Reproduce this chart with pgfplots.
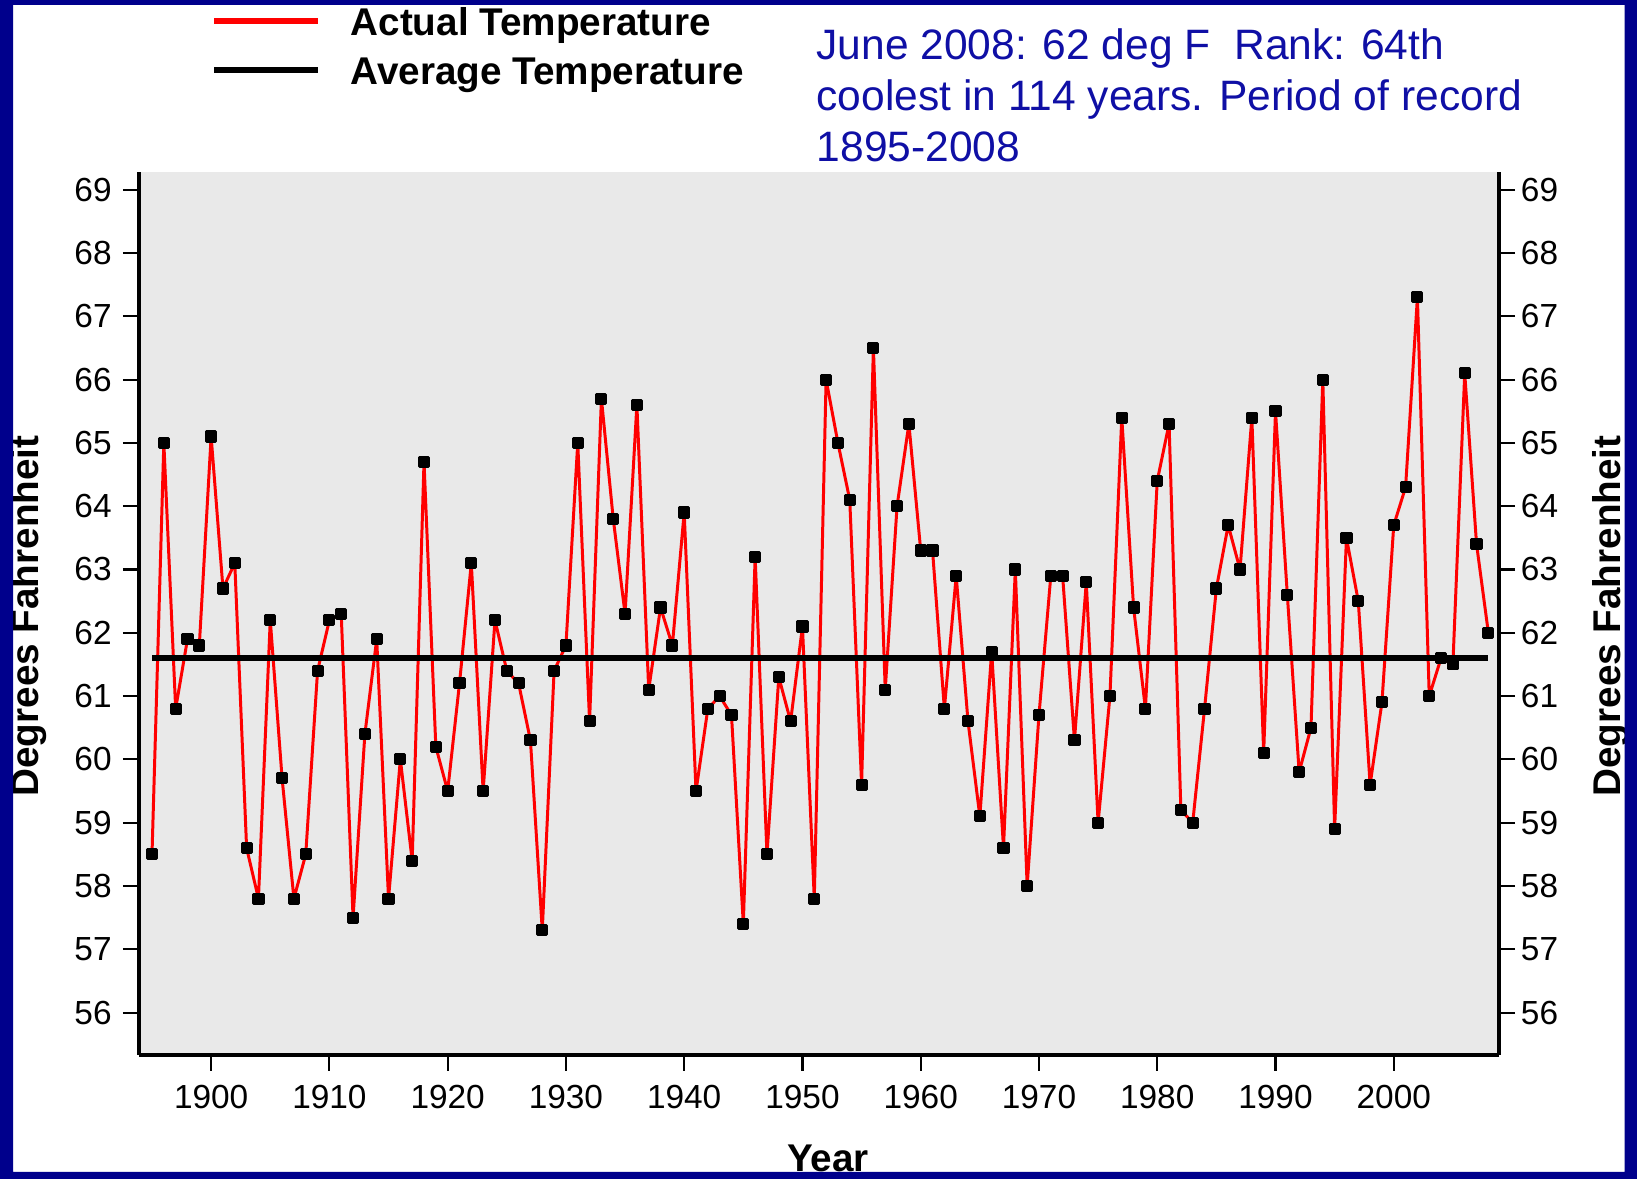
\documentclass[border=0pt]{standalone}
\usepackage{fontspec}
\setmainfont{Liberation Sans}
\usepackage{pgfplots}
\usepackage{pgfplotstable}
\pgfplotsset{compat=1.18}
\definecolor{navy}{RGB}{0,0,140}
\definecolor{txtblue}{RGB}{15,15,165}
\definecolor{panel}{RGB}{233,233,233}
\definecolor{tempred}{RGB}{255,0,0}

\pgfplotstableread{
year temp
1895 58.5
1896 65.0
1897 60.8
1898 61.9
1899 61.8
1900 65.1
1901 62.7
1902 63.1
1903 58.6
1904 57.8
1905 62.2
1906 59.7
1907 57.8
1908 58.5
1909 61.4
1910 62.2
1911 62.3
1912 57.5
1913 60.4
1914 61.9
1915 57.8
1916 60.0
1917 58.4
1918 64.7
1919 60.2
1920 59.5
1921 61.2
1922 63.1
1923 59.5
1924 62.2
1925 61.4
1926 61.2
1927 60.3
1928 57.3
1929 61.4
1930 61.8
1931 65.0
1932 60.6
1933 65.7
1934 63.8
1935 62.3
1936 65.6
1937 61.1
1938 62.4
1939 61.8
1940 63.9
1941 59.5
1942 60.8
1943 61.0
1944 60.7
1945 57.4
1946 63.2
1947 58.5
1948 61.3
1949 60.6
1950 62.1
1951 57.8
1952 66.0
1953 65.0
1954 64.1
1955 59.6
1956 66.5
1957 61.1
1958 64.0
1959 65.3
1960 63.3
1961 63.3
1962 60.8
1963 62.9
1964 60.6
1965 59.1
1966 61.7
1967 58.6
1968 63.0
1969 58.0
1970 60.7
1971 62.9
1972 62.9
1973 60.3
1974 62.8
1975 59.0
1976 61.0
1977 65.4
1978 62.4
1979 60.8
1980 64.4
1981 65.3
1982 59.2
1983 59.0
1984 60.8
1985 62.7
1986 63.7
1987 63.0
1988 65.4
1989 60.1
1990 65.5
1991 62.6
1992 59.8
1993 60.5
1994 66.0
1995 58.9
1996 63.5
1997 62.5
1998 59.6
1999 60.9
2000 63.7
2001 64.3
2002 67.3
2003 61.0
2004 61.6
2005 61.5
2006 66.1
2007 63.4
2008 62.0
}\tempdata

\pgfplotstableread{
year avg
1895 61.6
2008 61.6
}\avgdata

\begin{document}
\begin{tikzpicture}[x=1cm,y=1cm]
\useasboundingbox (0,0) rectangle (16.37,11.79);
\fill[white] (0,0) rectangle (16.37,11.79);

\pgfplotsset{
  commonaxis/.style={
    at={(1.39cm,1.24cm)}, anchor=south west,
    scale only axis, width=13.60cm, height=8.83cm,
    xmin=1893.9, xmax=2008.9, ymin=55.33, ymax=69.28,
    ytick={56,57,...,69},
    tick align=outside, major tick length=1.6mm,
    tick style={line width=0.6pt, black},
    axis line style={line width=0.9pt, black, -},
    ticklabel style={font=\fontsize{9.5}{11}\selectfont},
    /pgf/number format/assume math mode=true,
    /pgf/number format/1000 sep={},
  }
}

\begin{axis}[
  commonaxis,
  axis x line*=bottom, axis y line*=left,
  axis background/.style={fill=panel},
  xtick={1900,1910,...,2000},
  xticklabel style={yshift=-0.15mm},
  yticklabel style={xshift=0.1mm},
]
\addplot[tempred, line width=0.85pt, line join=round, mark=square*, mark size=1.3pt,
  mark options={black, fill=black}] table[x=year, y=temp] {\tempdata};
\addplot[black, line width=1.9pt] table[x=year, y=avg] {\avgdata};
\end{axis}

\begin{axis}[
  commonaxis,
  axis x line=none, axis y line*=right,
  yticklabel style={xshift=-0.65mm},
]
\addplot[draw=none] coordinates {(1900,60)};
\end{axis}

% axis titles
\node[rotate=90, font=\bfseries\fontsize{11}{13}\selectfont] at (0.29,5.63) {Degrees Fahrenheit};
\node[rotate=90, font=\bfseries\fontsize{11}{13}\selectfont] at (16.11,5.63) {Degrees Fahrenheit};
\node[anchor=base, inner sep=0pt, font=\bfseries\fontsize{11}{13}\selectfont] at (8.28,0.07) {Year};

% legend
\draw[tempred, line width=1.5pt] (2.14,11.58) -- (3.18,11.58);
\draw[black, line width=1.8pt] (2.14,11.09) -- (3.18,11.09);
\node[anchor=base west, inner sep=0pt, font=\bfseries\fontsize{11}{13}\selectfont] at (3.50,11.435) {Actual Temperature};
\node[anchor=base west, inner sep=0pt, font=\bfseries\fontsize{11}{13}\selectfont] at (3.50,10.945) {Average Temperature};

% note
\node[anchor=base west, inner sep=0pt, text=txtblue, font=\fontsize{12.1}{14}\selectfont] at (8.16,11.195) {June 2008: 62 deg F\ \ Rank: 64th};
\node[anchor=base west, inner sep=0pt, text=txtblue, font=\fontsize{12.1}{14}\selectfont] at (8.16,10.683) {coolest in 114 years. Period of record};
\node[anchor=base west, inner sep=0pt, text=txtblue, font=\fontsize{12.1}{14}\selectfont] at (8.16,10.172) {1895-2008};

% frame
\fill[navy, even odd rule] (0,0) rectangle (16.37,11.79) (0.13,0.07) rectangle (16.245,11.74);
\end{tikzpicture}
\end{document}
